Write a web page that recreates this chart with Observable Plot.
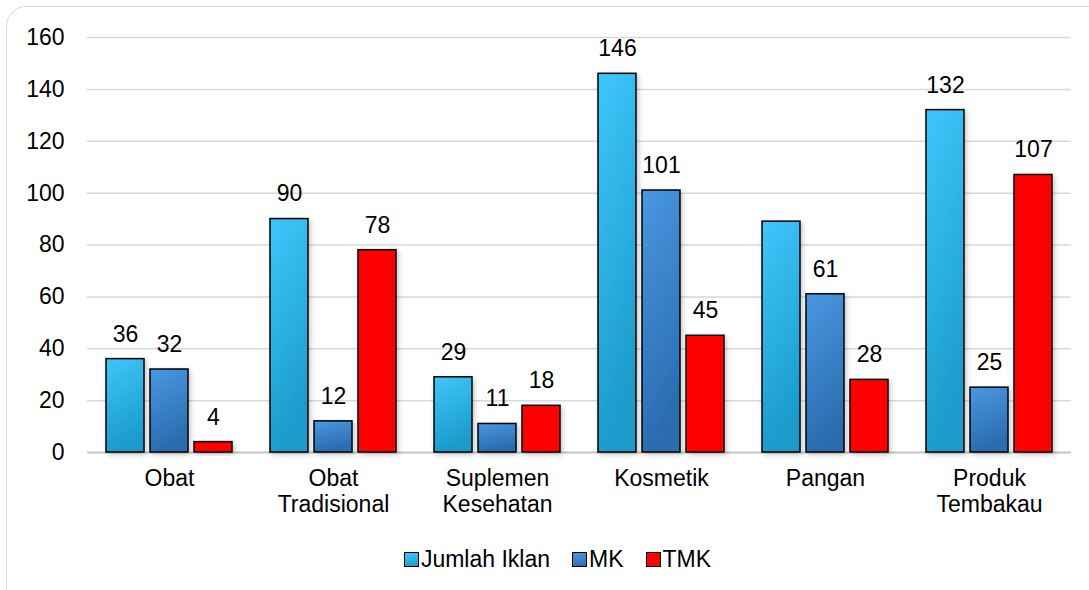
<!DOCTYPE html>
<html>
<head>
<meta charset="utf-8">
<script src="https://cdn.jsdelivr.net/npm/d3@7"></script>
<script src="https://cdn.jsdelivr.net/npm/@observablehq/plot@0.6"></script>
<style>
  html, body { margin: 0; padding: 0; background: #fff; }
  #wrap { position: relative; width: 1089px; height: 590px; overflow: hidden; font-family: "Liberation Sans", Arial, sans-serif; }
  #frame { position: absolute; left: 6px; top: 6px; width: 1110px; height: 610px; border: 1.5px solid #d9d9d9; border-radius: 20px; box-sizing: border-box; }
  #chart { position: absolute; left: 0; top: 0; }
  #legend { position: absolute; left: 0; top: 546px; width: 1089px; display: flex; justify-content: center; align-items: center; font-size: 23px; color: #000; padding-left: 26px; box-sizing: border-box; }
  .item { display: flex; align-items: center; margin: 0 11px; }
  .sw { width: 13px; height: 13px; border: 1.5px solid #000; margin-right: 2px; }
</style>
</head>
<body>
<div id="wrap">
  <div id="frame"></div>
  <div id="chart"></div>
  <div id="legend"></div>
</div>
<script>
const categories = ["Obat", "Obat\nTradisional", "Suplemen\nKesehatan", "Kosmetik", "Pangan", "Produk\nTembakau"];
const series = ["Jumlah Iklan", "MK", "TMK"];
const jumlahIklan = [36, 90, 29, 146, 89, 132];
const mk = [32, 12, 11, 101, 61, 25];
const tmk = [4, 78, 18, 45, 28, 107];
// data labels not displayed in the original chart
const hiddenLabels = [["Pangan", "Jumlah Iklan"]];
const yTicks = [0, 20, 40, 60, 80, 100, 120, 140, 160];

const seriesValues = [jumlahIklan, mk, tmk];
const data = [];
categories.forEach((c, i) => {
  series.forEach((s, j) => {
    data.push({category: c, series: s, value: seriesValues[j][i]});
  });
});
const labelData = data.filter(d => !hiddenLabels.some(([c, s]) => c === d.category && s === d.series));

const fills = ["url(#gJ)", "url(#gM)", "url(#gT)"];
const font = "Liberation Sans, Arial, sans-serif";

const plot = Plot.plot({
  width: 1089,
  height: 535,
  marginLeft: 85,
  marginRight: 17,
  marginTop: 37,
  marginBottom: 83,
  style: {fontFamily: font, fontSize: "23px", color: "#000", background: "transparent"},
  fx: {domain: categories, padding: 0, label: null},
  x: {domain: series, paddingInner: 0.14, paddingOuter: 0.41, axis: null},
  y: {domain: [0, 160], axis: null},
  color: {domain: series, range: fills, legend: false},
  marks: [
    Plot.ruleY(yTicks.filter(t => t > 0), {stroke: "#d9d9d9", strokeWidth: 1.5}),
    Plot.ruleY([0], {stroke: "#c4c4c4", strokeWidth: 2}),
    Plot.barY(data, {fx: "category", x: "series", y: "value", fill: "series", stroke: "#000", strokeWidth: 1.5, className: "bars"}),
    Plot.text(labelData, {fx: "category", x: "series", y: "value", text: d => String(d.value), dy: -25, fontSize: 23, fill: "#000"}),
    Plot.axisY({ticks: yTicks, tickSize: 0, tickPadding: 23, fontSize: 23, fill: "#000", label: null, tickFormat: d => String(d)}),
    Plot.axisFx({anchor: "bottom", tickSize: 0, tickPadding: 16, fontSize: 23, fill: "#000", lineHeight: 1.1, label: null})
  ]
});

const defs = `
<defs>
  <linearGradient id="gJ" x1="0" y1="0" x2="0.25" y2="1">
    <stop offset="0" stop-color="#3fc6fb"/>
    <stop offset="1" stop-color="#1a9bcb"/>
  </linearGradient>
  <linearGradient id="gM" x1="0" y1="0" x2="0.25" y2="1">
    <stop offset="0" stop-color="#4a97e2"/>
    <stop offset="1" stop-color="#2a6cae"/>
  </linearGradient>
  <linearGradient id="gT" x1="0" y1="0" x2="0" y2="1">
    <stop offset="0" stop-color="#ff0000"/>
    <stop offset="1" stop-color="#ff0000"/>
  </linearGradient>
  <filter id="shadow" x="-30%" y="-30%" width="160%" height="160%">
    <feDropShadow dx="2" dy="2" stdDeviation="2.5" flood-color="#000" flood-opacity="0.22"/>
  </filter>
</defs>`;
plot.insertAdjacentHTML("afterbegin", defs);
plot.querySelectorAll(".bars rect").forEach(r => r.setAttribute("filter", "url(#shadow)"));
document.getElementById("chart").appendChild(plot);

const legendColors = [["#3fc6fb", "#1a9bcb"], ["#4a97e2", "#2a6cae"], ["#ff0000", "#ff0000"]];
const legend = document.getElementById("legend");
series.forEach((s, i) => {
  const item = document.createElement("div");
  item.className = "item";
  const sw = document.createElement("span");
  sw.className = "sw";
  sw.style.background = `linear-gradient(170deg, ${legendColors[i][0]}, ${legendColors[i][1]})`;
  const t = document.createElement("span");
  t.textContent = s;
  item.appendChild(sw);
  item.appendChild(t);
  legend.appendChild(item);
});
</script>
</body>
</html>
